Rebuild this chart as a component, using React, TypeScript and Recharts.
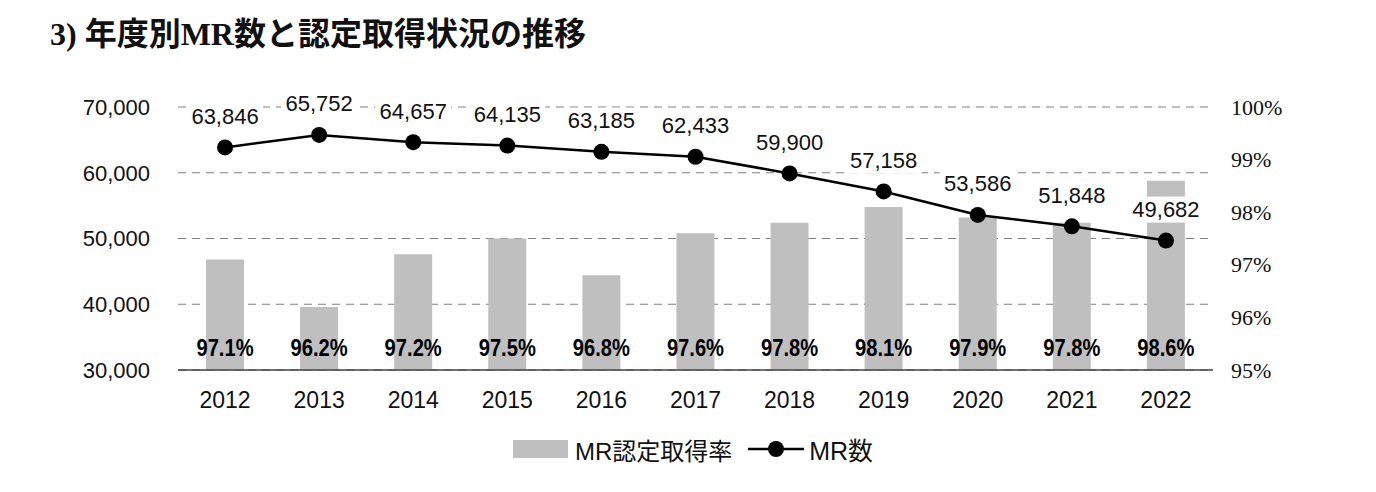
import { ComposedChart, Bar, Line, XAxis, YAxis, CartesianGrid, Legend, LabelList } from "recharts";

const years = ["2012", "2013", "2014", "2015", "2016", "2017", "2018", "2019", "2020", "2021", "2022"];
const mrCount = [63846, 65752, 64657, 64135, 63185, 62433, 59900, 57158, 53586, 51848, 49682];
const certRate = [97.1, 96.2, 97.2, 97.5, 96.8, 97.6, 97.8, 98.1, 97.9, 97.8, 98.6];
const leftTicks = [30000, 40000, 50000, 60000, 70000];
const rightTicks = [95, 96, 97, 98, 99, 100];

const data = years.map((y, i) => ({ year: y, count: mrCount[i], rate: certRate[i] }));

const SANS = "'Liberation Sans', Arial, 'Noto Sans CJK JP', sans-serif";
const SERIF = "'Liberation Serif', 'Times New Roman', serif";

// number label above each point, white box behind it hides the gridline
const CountLabel = (props: any) => {
  const { x, y, value } = props;
  const txt = Number(value).toLocaleString("en-US");
  const w = txt.length * 12;
  return (
    <g>
      <rect x={x - w / 2 - 2} y={y - 44} width={w + 4} height={26} fill="#fff" />
      <text x={x} y={y - 31} textAnchor="middle" dominantBaseline="central" fontSize={22} fontFamily={SANS} fill="#111">
        {txt}
      </text>
    </g>
  );
};

// percentage label pinned at the bottom of each bar (condensed bold)
const RateLabel = (props: any) => {
  const { x, y, width, height, value } = props;
  const cx = x + width / 2;
  const cy = y + height - 22;
  return (
    <g transform={`translate(${cx},${cy}) scale(0.84,1)`}>
      <text x={0} y={0} textAnchor="middle" dominantBaseline="central" fontSize={24} fontWeight="bold" fontFamily={SANS} fill="#000">
        {Number(value).toFixed(1)}%
      </text>
    </g>
  );
};

const RightTick = (props: any) => {
  const { x, y, payload } = props;
  return (
    <text x={x} y={y} textAnchor="start" dominantBaseline="central" fontSize={22} fontFamily={SERIF} fill="#111">
      {payload.value}%
    </text>
  );
};

const LegendContent = () => (
  <div style={{ display: "flex", justifyContent: "center", alignItems: "center", fontFamily: SANS, fontSize: 24, color: "#111", paddingLeft: 10 }}>
    <span style={{ display: "inline-block", width: 55, height: 18, background: "#BFBFBF", marginRight: 7 }} />
    <span style={{ marginRight: 16 }}>MR認定取得率</span>
    <svg width={56} height={20} style={{ marginRight: 5 }}>
      <line x1={0} y1={10} x2={56} y2={10} stroke="#000" strokeWidth={2.5} />
      <circle cx={28} cy={10} r={8} fill="#000" />
    </svg>
    <span style={{ fontSize: 25 }}>MR数</span>
  </div>
);

export default function App() {
  return (
    <div style={{ position: "relative", width: 1360, height: 476, background: "#fff" }}>
      <div
        style={{
          position: "absolute",
          left: 42,
          top: 0,
          fontFamily: SERIF + ", 'Noto Sans CJK JP'",
          fontWeight: "bold",
          fontSize: 32,
          color: "#111",
          whiteSpace: "nowrap",
        }}
      >
        3) 年度別MR数と認定取得状況の推移
      </div>
      <ComposedChart width={1360} height={476} data={data} margin={{ top: 99, right: 0, bottom: 38, left: 0 }}>
        <CartesianGrid yAxisId="left" vertical={false} stroke="#808080" strokeDasharray="8 6" />
        <XAxis
          dataKey="year"
          height={40}
          tickLine={false}
          axisLine={{ stroke: "#404040", strokeWidth: 1.5 }}
          tick={{ fontSize: 23, fontFamily: SANS, fill: "#111" }}
          tickMargin={16}
        />
        <YAxis
          yAxisId="left"
          width={170}
          domain={[30000, 70000]}
          ticks={leftTicks}
          tickFormatter={(v: number) => v.toLocaleString("en-US")}
          axisLine={false}
          tickLine={false}
          tickMargin={22}
          tick={{ fontSize: 22, fontFamily: SANS, fill: "#111" }}
        />
        <YAxis
          yAxisId="right"
          orientation="right"
          width={155}
          domain={[95, 100]}
          ticks={rightTicks}
          axisLine={false}
          tickLine={false}
          tickMargin={12}
          tick={<RightTick />}
        />
        <Legend content={<LegendContent />} wrapperStyle={{ top: 423, bottom: "auto", left: 0, width: 1360 }} />
        <Bar yAxisId="right" dataKey="rate" name="MR認定取得率" fill="#BFBFBF" barSize={38} isAnimationActive={false}>
          <LabelList dataKey="rate" content={<RateLabel />} />
        </Bar>
        <Line
          yAxisId="left"
          dataKey="count"
          name="MR数"
          stroke="#000"
          strokeWidth={2.5}
          dot={{ r: 8, fill: "#000", stroke: "#000", strokeWidth: 0 }}
          activeDot={false}
          isAnimationActive={false}
        >
          <LabelList dataKey="count" content={<CountLabel />} />
        </Line>
      </ComposedChart>
    </div>
  );
}
